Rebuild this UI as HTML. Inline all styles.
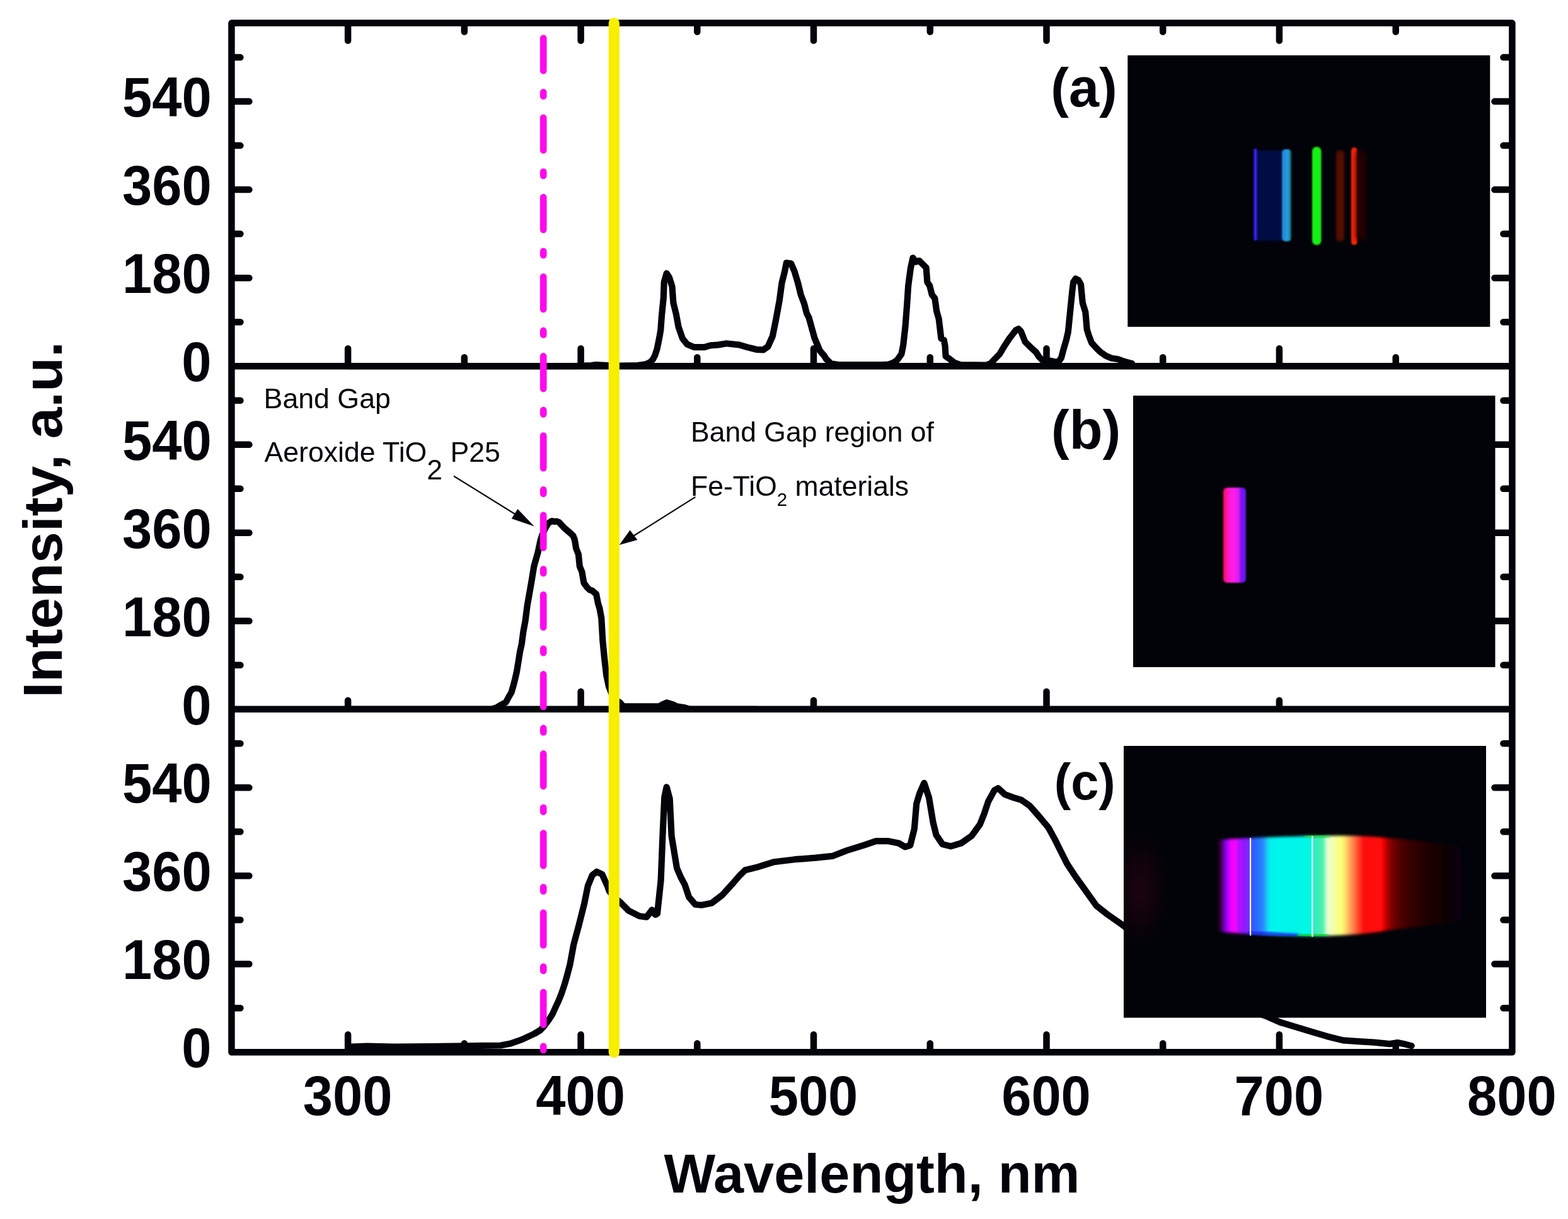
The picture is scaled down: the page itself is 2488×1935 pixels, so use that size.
<!DOCTYPE html>
<html><head><meta charset="utf-8"><title>Spectra</title>
<style>
html,body{margin:0;padding:0;background:#fff;}
body{width:2488px;height:1935px;overflow:hidden;}
svg{display:block;}
text{font-family:'Liberation Sans', Arial, Helvetica, sans-serif;fill:#02040a;}
.b{font-weight:bold;}
</style></head><body>
<svg width="2488" height="1935" viewBox="0 0 2488 1935">
<defs>
<filter id="bl1" x="-50%" y="-10%" width="200%" height="120%"><feGaussianBlur stdDeviation="1.2"/></filter>
<filter id="bl2" x="-50%" y="-10%" width="200%" height="120%"><feGaussianBlur stdDeviation="2.2"/></filter>
<filter id="bl8" x="-100%" y="-50%" width="300%" height="200%"><feGaussianBlur stdDeviation="12"/></filter>
<radialGradient id="rg1"><stop offset="0" stop-color="#1c0410" stop-opacity="1"/><stop offset="0.5" stop-color="#12020a" stop-opacity="0.8"/><stop offset="1" stop-color="#010308" stop-opacity="0"/></radialGradient>
<clipPath id="clipc"><rect x="1783" y="1184" width="575" height="431.5"/></clipPath>
<filter id="bl4" x="-50%" y="-20%" width="200%" height="140%"><feGaussianBlur stdDeviation="4"/></filter>
<linearGradient id="gc" x1="1930" y1="0" x2="2330" y2="0" gradientUnits="userSpaceOnUse">
<stop offset="0.0000" stop-color="#100010"/>
<stop offset="0.0200" stop-color="#38003c"/>
<stop offset="0.0350" stop-color="#8000e8"/>
<stop offset="0.0525" stop-color="#d000ff"/>
<stop offset="0.0625" stop-color="#ff00ff"/>
<stop offset="0.0775" stop-color="#f008ff"/>
<stop offset="0.0875" stop-color="#b010ff"/>
<stop offset="0.1150" stop-color="#9018ff"/>
<stop offset="0.1300" stop-color="#7030ff"/>
<stop offset="0.1425" stop-color="#2a5cff"/>
<stop offset="0.1825" stop-color="#2a80ff"/>
<stop offset="0.2000" stop-color="#20c0f8"/>
<stop offset="0.2125" stop-color="#00f4ec"/>
<stop offset="0.3700" stop-color="#00f6e6"/>
<stop offset="0.3900" stop-color="#30eebc"/>
<stop offset="0.4250" stop-color="#50f0b0"/>
<stop offset="0.4400" stop-color="#e8ffd8"/>
<stop offset="0.4650" stop-color="#f4ffa8"/>
<stop offset="0.5000" stop-color="#fcff70"/>
<stop offset="0.5150" stop-color="#ffd068"/>
<stop offset="0.5400" stop-color="#ff8850"/>
<stop offset="0.5650" stop-color="#ff4028"/>
<stop offset="0.5825" stop-color="#ff1010"/>
<stop offset="0.6600" stop-color="#ff0606"/>
<stop offset="0.6800" stop-color="#a00000"/>
<stop offset="0.7125" stop-color="#600000"/>
<stop offset="0.7650" stop-color="#380000"/>
<stop offset="0.8500" stop-color="#1a0002"/>
<stop offset="0.9250" stop-color="#0c0006"/>
<stop offset="1.0000" stop-color="#03030b"/>
</linearGradient>
<linearGradient id="gb" x1="1940" y1="0" x2="1978" y2="0" gradientUnits="userSpaceOnUse">
<stop offset="0" stop-color="#ff0838"/>
<stop offset="0.08" stop-color="#ff0c68"/>
<stop offset="0.22" stop-color="#ff16c8"/>
<stop offset="0.45" stop-color="#ff20ee"/>
<stop offset="0.66" stop-color="#e01cf0"/>
<stop offset="0.76" stop-color="#7a18f0"/>
<stop offset="1" stop-color="#6018e8"/>
</linearGradient>
<linearGradient id="gcy" x1="2034" y1="0" x2="2050" y2="0" gradientUnits="userSpaceOnUse">
<stop offset="0" stop-color="#2080e0"/>
<stop offset="0.6" stop-color="#28a0e0"/>
<stop offset="1" stop-color="#105040"/>
</linearGradient>
</defs>
<rect width="2488" height="1935" fill="#fff"/>

<text class="b" transform="translate(97.5 825) rotate(-90) scale(1.018 1)" text-anchor="middle" font-size="88">Intensity, a.u.</text>
<text class="b" transform="translate(1383.5 1893.3) scale(0.983 1)" text-anchor="middle" font-size="88">Wavelength, nm</text>
<text class="b" transform="translate(335.6 605.2) scale(0.965 1.012)" text-anchor="end" font-size="88">0</text>
<text class="b" transform="translate(335.6 465.2) scale(0.965 1.012)" text-anchor="end" font-size="88">180</text>
<text class="b" transform="translate(335.6 325.1) scale(0.965 1.012)" text-anchor="end" font-size="88">360</text>
<text class="b" transform="translate(335.6 185.1) scale(0.965 1.012)" text-anchor="end" font-size="88">540</text>
<text class="b" transform="translate(335.6 1149.8) scale(0.965 1.012)" text-anchor="end" font-size="88">0</text>
<text class="b" transform="translate(335.6 1009.8) scale(0.965 1.012)" text-anchor="end" font-size="88">180</text>
<text class="b" transform="translate(335.6 869.7) scale(0.965 1.012)" text-anchor="end" font-size="88">360</text>
<text class="b" transform="translate(335.6 729.7) scale(0.965 1.012)" text-anchor="end" font-size="88">540</text>
<text class="b" transform="translate(335.6 1694.3) scale(0.965 1.012)" text-anchor="end" font-size="88">0</text>
<text class="b" transform="translate(335.6 1554.3) scale(0.965 1.012)" text-anchor="end" font-size="88">180</text>
<text class="b" transform="translate(335.6 1414.2) scale(0.965 1.012)" text-anchor="end" font-size="88">360</text>
<text class="b" transform="translate(335.6 1274.2) scale(0.965 1.012)" text-anchor="end" font-size="88">540</text>
<text class="b" transform="translate(551.6 1769.5) scale(0.965 1.012)" text-anchor="middle" font-size="88">300</text>
<text class="b" transform="translate(921.1 1769.5) scale(0.965 1.012)" text-anchor="middle" font-size="88">400</text>
<text class="b" transform="translate(1290.5 1769.5) scale(0.965 1.012)" text-anchor="middle" font-size="88">500</text>
<text class="b" transform="translate(1660.0 1769.5) scale(0.965 1.012)" text-anchor="middle" font-size="88">600</text>
<text class="b" transform="translate(2029.4 1769.5) scale(0.965 1.012)" text-anchor="middle" font-size="88">700</text>
<text class="b" transform="translate(2398.9 1769.5) scale(0.965 1.012)" text-anchor="middle" font-size="88">800</text>
<polyline points="552.0,581.2 915.0,581.2 925.0,580.5 938.0,580.0 945.6,579.0 955.0,579.5 964.0,580.2 983.0,580.5 1011.6,580.0 1024.5,578.3 1031.0,575.5 1036.0,570.5 1039.5,563.5 1042.7,553.5 1046.4,535.0 1048.3,524.0 1050.0,500.7 1052.8,473.3 1053.7,447.6 1057.7,433.9 1061.9,440.3 1066.5,454.9 1068.4,480.6 1072.9,498.9 1076.6,519.0 1083.0,537.4 1090.3,546.5 1101.3,551.1 1117.8,551.1 1127.0,548.4 1139.8,547.4 1152.6,545.2 1172.7,547.4 1185.6,551.1 1200.2,554.8 1211.2,555.3 1218.5,550.2 1225.9,533.7 1231.4,506.2 1236.8,476.9 1240.5,449.5 1245.1,431.1 1247.8,417.4 1255.2,418.3 1260.7,431.1 1266.2,449.5 1270.7,467.8 1276.2,482.4 1279.9,497.1 1283.6,504.4 1288.1,520.9 1292.7,537.4 1297.3,548.0 1300.5,556.0 1303.7,560.0 1307.3,564.0 1311.0,570.0 1318.3,577.0 1330.0,579.0 1400.0,579.0 1410.0,578.5 1418.0,575.5 1424.0,571.0 1430.4,562.0 1433.3,547.3 1436.6,517.4 1439.4,480.7 1441.2,453.3 1444.9,425.8 1448.5,409.3 1453.1,415.7 1458.6,413.9 1464.1,419.4 1469.6,424.9 1471.4,447.8 1475.1,453.3 1478.8,467.9 1483.3,473.4 1486.1,493.6 1489.7,506.4 1493.4,537.5 1497.7,539.6 1499.6,549.2 1500.6,565.6 1506.3,569.4 1514.0,575.5 1523.7,579.0 1565.0,579.5 1572.0,577.0 1576.5,572.0 1586.2,562.0 1593.8,549.2 1600.6,538.7 1607.3,530.0 1612.0,524.0 1616.1,522.0 1620.0,526.0 1626.5,542.5 1636.2,552.1 1643.8,558.8 1648.7,566.5 1653.5,571.3 1663.0,572.0 1672.7,574.0 1679.4,574.5 1684.0,568.0 1687.1,556.0 1691.9,539.6 1694.9,526.5 1697.6,499.0 1701.3,462.4 1703.1,447.8 1706.8,442.3 1711.4,445.0 1715.0,451.4 1717.8,480.7 1722.3,495.4 1724.7,522.9 1727.5,532.0 1732.0,544.0 1738.5,551.3 1745.8,558.6 1755.0,565.0 1764.1,568.7 1773.3,570.0 1782.4,573.3 1791.6,576.0 1796.0,577.0" fill="none" stroke="#02040a" stroke-width="10.2" stroke-linejoin="round" stroke-linecap="round"/>
<polyline points="552.0,1125.8 780.0,1125.8 788.0,1123.2 793.0,1120.0 799.0,1116.8 802.8,1114.6 807.2,1106.4 811.5,1099.0 814.7,1088.0 817.5,1077.0 820.0,1066.0 822.6,1050.0 825.0,1035.0 827.8,1022.0 830.3,1003.1 833.5,985.9 836.7,961.0 839.0,948.0 843.5,922.4 847.3,898.9 853.5,877.0 857.5,858.0 860.0,850.0 864.5,840.0 870.0,830.5 875.5,827.0 880.0,828.0 883.0,827.5 887.0,829.0 895.3,838.0 904.7,846.0 909.4,850.5 911.8,856.5 914.2,870.6 917.9,880.0 919.8,898.9 923.5,908.2 926.4,925.2 931.1,931.8 935.8,936.5 939.5,937.4 946.1,943.1 949.0,958.0 951.4,965.6 954.3,981.4 956.3,1016.8 959.2,1046.4 962.2,1072.0 966.1,1089.8 972.0,1105.0 978.0,1112.0 983.9,1115.4 988.8,1121.3 1046.0,1121.3 1052.0,1118.0 1057.8,1115.4 1067.7,1118.4 1073.6,1121.3 1085.0,1123.0 1095.0,1125.8 1200.0,1125.8" fill="none" stroke="#02040a" stroke-width="10.2" stroke-linejoin="round" stroke-linecap="round"/>
<polyline points="557.0,1661.5 582.4,1660.5 624.8,1661.5 681.3,1661.0 737.8,1660.3 794.3,1659.5 810.0,1656.5 828.5,1650.0 847.7,1641.0 857.0,1635.5 863.0,1629.2 870.0,1620.0 876.5,1610.0 881.0,1600.0 886.2,1588.8 891.0,1577.0 896.0,1562.0 900.0,1548.0 904.5,1530.6 910.2,1499.5 918.6,1468.4 927.1,1434.5 932.8,1406.3 939.8,1389.3 946.9,1383.7 955.4,1387.9 963.8,1406.3 966.7,1414.7 975.0,1424.0 983.6,1431.7 997.8,1445.8 1014.7,1454.3 1026.0,1455.7 1034.5,1444.4 1040.0,1452.0 1043.0,1450.1 1048.6,1397.8 1051.4,1327.2 1054.3,1265.0 1057.7,1249.4 1062.7,1267.8 1065.6,1327.2 1074.0,1378.0 1080.0,1392.0 1086.6,1404.4 1093.2,1424.2 1103.1,1435.7 1113.0,1436.7 1129.5,1433.4 1145.9,1420.9 1162.4,1402.8 1172.3,1391.2 1182.2,1381.3 1202.0,1376.4 1228.4,1368.2 1261.3,1364.2 1294.3,1361.6 1320.7,1358.9 1343.8,1350.0 1370.1,1341.8 1389.9,1335.2 1409.7,1335.2 1426.2,1338.5 1436.1,1344.4 1444.3,1341.8 1450.9,1315.4 1454.2,1275.8 1459.2,1259.3 1466.4,1242.9 1474.0,1265.9 1480.6,1305.5 1485.5,1325.3 1495.4,1340.1 1508.6,1343.4 1525.1,1338.5 1541.6,1326.9 1554.8,1308.8 1561.4,1292.3 1568.0,1272.5 1577.9,1254.4 1583.8,1251.1 1594.3,1261.0 1607.5,1265.9 1620.7,1269.9 1633.9,1279.1 1647.1,1294.0 1663.6,1313.7 1673.5,1331.9 1683.4,1351.7 1693.3,1371.4 1706.4,1391.2 1722.9,1414.3 1739.4,1437.4 1755.9,1450.6 1772.4,1462.1 1784.0,1470.4 1850.0,1530.0 1950.0,1590.0 2012.2,1614.3 2032.0,1623.0 2056.7,1630.4 2081.5,1637.8 2106.2,1645.2 2130.9,1651.4 2155.6,1653.2 2180.4,1654.6 2205.1,1657.1 2217.5,1655.1 2229.8,1657.6 2239.7,1660.1" fill="none" stroke="#02040a" stroke-width="10.2" stroke-linejoin="round" stroke-linecap="round"/>
<rect x="1789.3" y="87.8" width="575" height="431" fill="#010308"/>
<g>
<rect x="1995" y="239" width="39" height="143" fill="#050a44" filter="url(#bl2)"/>
<rect x="1989.5" y="236" width="5" height="146" rx="2.5" fill="#3520ff" filter="url(#bl1)"/>
<rect x="2034" y="237" width="15" height="146" rx="5" fill="url(#gcy)" filter="url(#bl1)"/>
<rect x="2082" y="233" width="14.5" height="156" rx="7" fill="#16ee16" filter="url(#bl1)"/>
<rect x="2120" y="239" width="13" height="144" rx="5" fill="#541004" filter="url(#bl2)"/>
<rect x="2144" y="234" width="9.5" height="155" rx="4.7" fill="#ff200c" filter="url(#bl1)"/>
<rect x="2152" y="240" width="14" height="140" fill="#2a0500" filter="url(#bl4)"/>
</g>
<rect x="1798" y="628" width="574.5" height="431" fill="#010308"/>
<rect x="1941" y="774" width="36" height="151" rx="6" fill="url(#gb)" filter="url(#bl1)"/>
<rect x="1783" y="1184" width="575" height="431.5" fill="#010308"/>
<g clip-path="url(#clipc)"><ellipse cx="1808" cy="1412" rx="55" ry="110" fill="url(#rg1)"/></g>
<path d="M1933 1333 Q1990 1329 2082 1327 Q2160 1325 2200 1330 Q2260 1334 2325 1345 L2325 1462 Q2260 1470 2200 1477 Q2160 1485 2082 1486 Q1990 1484 1933 1479 Z" fill="url(#gc)" filter="url(#bl2)"/>
<path d="M1980 1479 Q2030 1484 2060 1485" stroke="#2228ff" stroke-width="5" fill="none" filter="url(#bl2)"/>
<path d="M2060 1484 Q2090 1486 2108 1484" stroke="#10d820" stroke-width="6" fill="none" filter="url(#bl2)"/>
<path d="M2070 1329 Q2090 1327 2110 1327" stroke="#20e040" stroke-width="5" fill="none" filter="url(#bl2)"/>
<rect x="1983" y="1330" width="2.2" height="155" fill="#ffffff" opacity="0.95"/>
<rect x="2081.3" y="1327" width="2.2" height="160" fill="#ffffff" opacity="0.95"/>
<path d="M367.4 36.6H2399.4V1670.3H367.4Z M367.4 581.2H2399.4 M367.4 1125.8H2399.4" fill="none" stroke="#02040a" stroke-width="10.5" stroke-linejoin="round"/>
<path d="M552.1 41.6V64.6M921.6 41.6V64.6M1291.0 41.6V64.6M1660.5 41.6V64.6M2029.9 41.6V64.6M736.8 41.6V50.6M1106.3 41.6V50.6M1475.8 41.6V50.6M1845.2 41.6V50.6M2214.7 41.6V50.6M552.1 576.2V553.2M921.6 576.2V553.2M1291.0 576.2V553.2M1660.5 576.2V553.2M2029.9 576.2V553.2M736.8 576.2V567.2M1106.3 576.2V567.2M1475.8 576.2V567.2M1845.2 576.2V567.2M2214.7 576.2V567.2M921.6 1120.8V1097.8M1660.5 1120.8V1097.8M552.1 1120.8V1111.8M1291.0 1120.8V1111.8M2029.9 1120.8V1111.8M552.1 1665.3V1642.3M921.6 1665.3V1642.3M1291.0 1665.3V1642.3M1660.5 1665.3V1642.3M2029.9 1665.3V1642.3M736.8 1665.3V1656.3M1106.3 1665.3V1656.3M1475.8 1665.3V1656.3M1845.2 1665.3V1656.3M2214.7 1665.3V1656.3M372.4 441.2H395.4M2394.4 441.2H2371.4M372.4 301.1H395.4M2394.4 301.1H2371.4M372.4 161.1H395.4M2394.4 161.1H2371.4M372.4 511.2H381.4M2394.4 511.2H2385.4M372.4 371.2H381.4M2394.4 371.2H2385.4M372.4 231.1H381.4M2394.4 231.1H2385.4M372.4 91.1H381.4M2394.4 91.1H2385.4M372.4 985.8H395.4M2394.4 985.8H2371.4M372.4 845.7H395.4M2394.4 845.7H2371.4M372.4 705.7H395.4M2394.4 705.7H2371.4M372.4 1055.8H381.4M2394.4 1055.8H2385.4M372.4 915.8H381.4M2394.4 915.8H2385.4M372.4 775.7H381.4M2394.4 775.7H2385.4M372.4 635.7H381.4M2394.4 635.7H2385.4M372.4 1530.3H395.4M2394.4 1530.3H2371.4M372.4 1390.2H395.4M2394.4 1390.2H2371.4M372.4 1250.2H395.4M2394.4 1250.2H2371.4M372.4 1600.3H381.4M2394.4 1600.3H2385.4M372.4 1460.3H381.4M2394.4 1460.3H2385.4M372.4 1320.2H381.4M2394.4 1320.2H2385.4M372.4 1180.2H381.4M2394.4 1180.2H2385.4" fill="none" stroke="#02040a" stroke-width="10.5" stroke-linecap="round"/>
<text class="b" transform="translate(1667.3 169) scale(0.98 1)" font-size="88">(a)</text>
<text class="b" transform="translate(1668.1 711.9) scale(0.98 1)" font-size="88">(b)</text>
<text class="b" transform="translate(1672.7 1268.5) scale(0.98 1)" font-size="81">(c)</text>
<line x1="862.2" y1="60.6" x2="862.2" y2="1667" stroke="#ff08ee" stroke-width="10.6" stroke-linecap="round" stroke-dasharray="51.7 34 6.5 34"/>
<line x1="974.3" y1="36.6" x2="974.3" y2="1670.3" stroke="#f8ee00" stroke-width="17.2" stroke-linecap="round"/>
<text x="418.6" y="648.2" font-size="44.7">Band Gap</text>
<text x="419.5" y="733.4" font-size="44.6">Aeroxide TiO<tspan dy="27.5">2</tspan><tspan dy="-27.5"> P25</tspan></text>
<text x="1096" y="701.1" font-size="44.5">Band Gap region of</text>
<text x="1096" y="787.1" font-size="44.5">Fe-TiO<tspan font-size="29.5" dy="16">2</tspan><tspan dy="-16"> materials</tspan></text>
<line x1="720" y1="755.7" x2="830" y2="824" stroke="#02040a" stroke-width="2.2"/>
<path d="M847.8 835.4 L811.7 823.3 L821.4 808.1 Z" fill="#02040a"/>
<line x1="1103.4" y1="788.9" x2="1000" y2="854" stroke="#02040a" stroke-width="2.2"/>
<path d="M982.7 865 L999.6 841.5 L1011.4 857.1 Z" fill="#02040a"/>
</svg>
</body></html>
